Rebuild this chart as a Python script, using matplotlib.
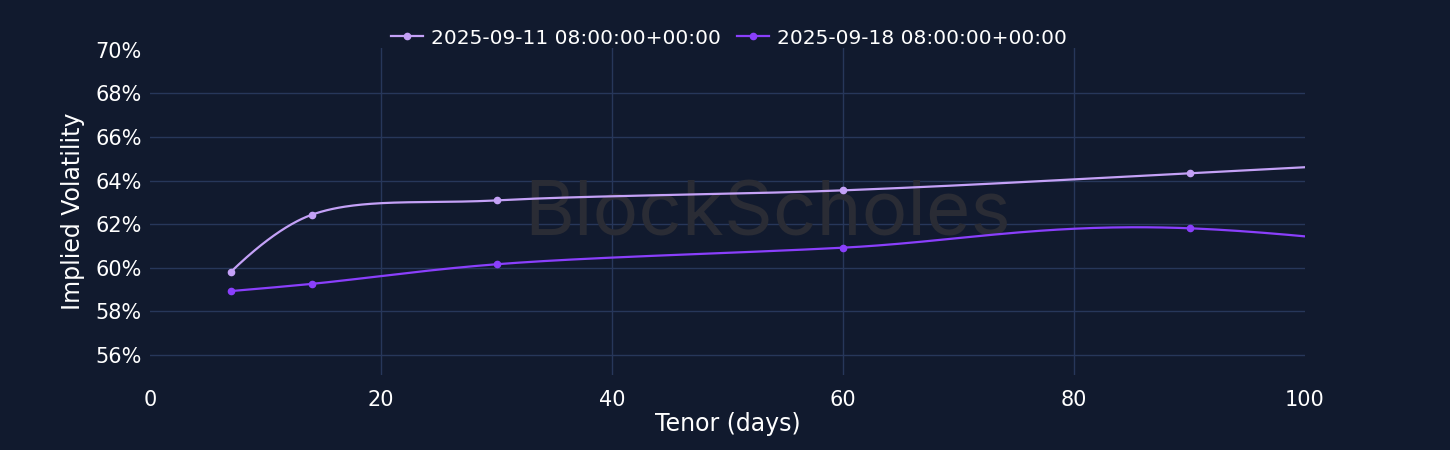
import numpy as np
import matplotlib
matplotlib.use("Agg")
import matplotlib.pyplot as plt

# ---- data ----
tenor_days = [7, 14, 30, 60, 90, 180]
iv_2025_09_11 = [59.81, 62.43, 63.09, 63.55, 64.33, 66.9]
iv_2025_09_18 = [58.93, 59.26, 60.16, 60.92, 61.81, 55.4]
series_labels = ["2025-09-11 08:00:00+00:00", "2025-09-18 08:00:00+00:00"]
series_colors = ["#c4a1f7", "#8a3ffc"]
y_ticks = [56, 58, 60, 62, 64, 66, 68, 70]
x_ticks = [0, 20, 40, 60, 80, 100]

BG = "#111a2e"
GRID = "#27375a"

W, H, DPI = 1450, 450, 100
fig = plt.figure(figsize=(W / DPI, H / DPI), dpi=DPI, facecolor=BG)
ax_left, ax_right, ax_top, ax_bot = 150, 1305, 48, 375
ax = fig.add_axes([ax_left / W, 1 - ax_bot / H, (ax_right - ax_left) / W, (ax_bot - ax_top) / H])
ax.set_facecolor(BG)

xmin, xmax = 0, 100
ymin, ymax = 55.08, 70.08
ax.set_xlim(xmin, xmax)
ax.set_ylim(ymin, ymax)

sx = (ax_right - ax_left) / (xmax - xmin)
sy = (ax_bot - ax_top) / (ymax - ymin)


def make_tangent(p0, p1, p2, smooth=1.0):
    d1 = p0 - p1
    d2 = p2 - p1
    d1a = np.hypot(*d1) ** 0.5
    d2a = np.hypot(*d2) ** 0.5
    num = (d2a * d2a * d1 - d1a * d1a * d2) * smooth
    den1 = 3 * d2a * (d1a + d2a)
    den2 = 3 * d1a * (d1a + d2a)
    return p1 + num / den1, p1 - num / den2


def spline(xs, ys, n=80):
    pts = np.column_stack([np.asarray(xs, float) * sx, np.asarray(ys, float) * sy])
    tans = [make_tangent(pts[i - 1], pts[i], pts[i + 1]) for i in range(1, len(pts) - 1)]
    t = np.linspace(0, 1, n)[:, None]
    out = []
    c = tans[0][0]
    out.append((1 - t) ** 2 * pts[0] + 2 * t * (1 - t) * c + t ** 2 * pts[1])
    for i in range(2, len(pts) - 1):
        c1 = tans[i - 2][1]
        c2 = tans[i - 1][0]
        p0, p3 = pts[i - 1], pts[i]
        out.append((1 - t) ** 3 * p0 + 3 * (1 - t) ** 2 * t * c1 + 3 * (1 - t) * t ** 2 * c2 + t ** 3 * p3)
    c = tans[-1][1]
    out.append((1 - t) ** 2 * pts[-2] + 2 * t * (1 - t) * c + t ** 2 * pts[-1])
    arr = np.vstack(out)
    return arr[:, 0] / sx, arr[:, 1] / sy


# grid
for yv in y_ticks[:-1]:
    ax.axhline(yv, color=GRID, lw=1, zorder=1)
for xv in x_ticks[1:-1]:
    ax.axvline(xv, color=GRID, lw=1, zorder=1)

# watermark
ax.text(0.535, 0.485, "BlockScholes", transform=ax.transAxes, ha="center", va="center",
        fontsize=55, color="#2a2c35", family="Inter", zorder=2)

handles = []
for ys, lab, col in zip([iv_2025_09_11, iv_2025_09_18], series_labels, series_colors):
    cx, cy = spline(tenor_days, ys)
    ax.plot(cx, cy, color=col, lw=1.6, zorder=3, clip_on=True)
    ax.plot(tenor_days, ys, "o", color=col, ms=4.5, zorder=4, clip_on=True)
    h, = ax.plot([], [], "-o", color=col, lw=1.6, ms=4.5, label=lab)
    handles.append(h)

for s in ax.spines.values():
    s.set_visible(False)

ax.set_xticks(x_ticks)
ax.set_xticklabels([str(v) for v in x_ticks])
ax.set_yticks(y_ticks)
ax.set_yticklabels([f"{v}%" for v in y_ticks])
ax.tick_params(axis="both", length=0, colors="white", labelsize=15)
ax.tick_params(axis="x", pad=11)
ax.tick_params(axis="y", pad=6)

ax.set_xlabel("Tenor (days)", color="white", fontsize=17, labelpad=1)
ax.set_ylabel("Implied Volatility", color="white", fontsize=17, labelpad=7)

leg = fig.legend(handles=handles, loc="center", bbox_to_anchor=(729 / W, 1 - 38 / H), ncol=2,
                 frameon=False, fontsize=14.5, labelcolor="white", handlelength=1.6,
                 handletextpad=0.4, columnspacing=0.8)

fig.savefig("out.png", dpi=DPI, facecolor=BG)
